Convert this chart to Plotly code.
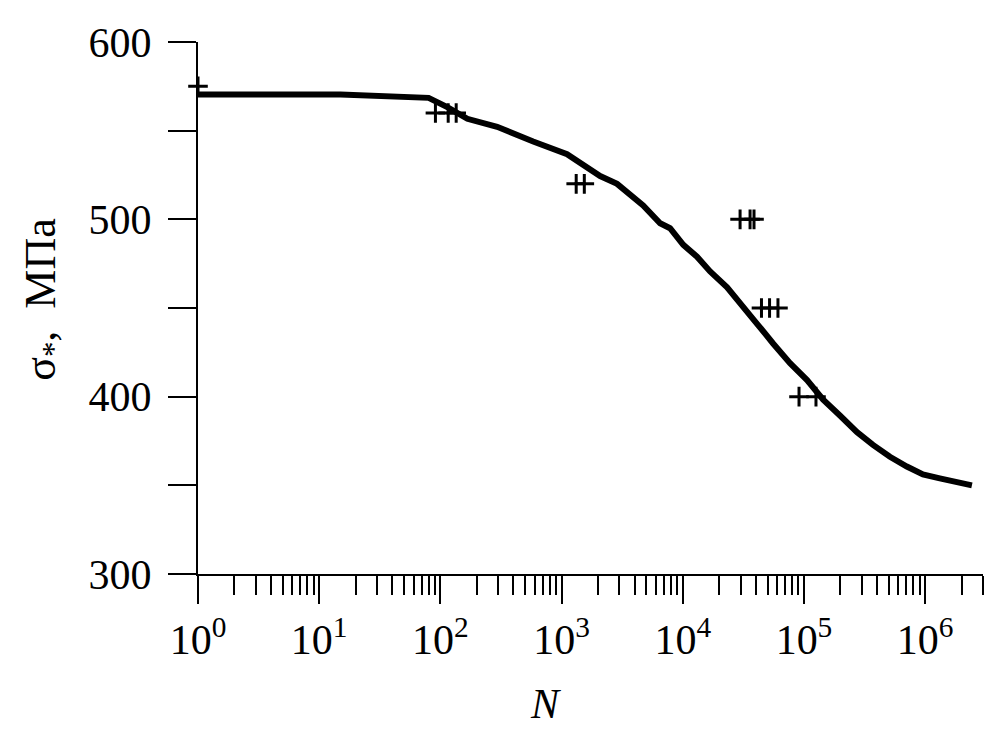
import math
import plotly.graph_objects as go

# Fitted curve
curve_N = [1, 15, 80, 114, 167, 294, 583, 1110, 2080, 2870, 4710, 6500, 7850,
           10100, 13100, 16800, 23200, 29700, 41000, 55600, 76700, 106000,
           144000, 198000, 274000, 371000, 512000, 706000, 958000, 1320000,
           1830000, 2430000]
curve_sigma = [570.4, 570.4, 568.5, 563.3, 556.7, 552.2, 543.9, 536.7, 524.4,
               520.0, 507.8, 497.8, 495.0, 485.6, 478.9, 470.6, 461.7, 452.2,
               441.1, 430.0, 418.9, 409.4, 398.3, 389.4, 380.0, 372.8, 366.1,
               360.6, 356.1, 353.9, 352.2, 350.0]

# Experimental points
exp_N = [1, 91, 116, 135, 1320, 1540, 29700, 35900, 38700, 44600, 52000, 61000,
         91000, 125600]
exp_sigma = [575, 560, 560, 560, 520, 520, 500, 500, 500, 450, 450, 450, 400, 400]

# Axis ticks
x_major_vals = [1, 10, 100, 1000, 10000, 100000, 1000000]
x_major_text = ["10<sup>%d</sup>" % i for i in range(7)]
x_max = 3e6
y_tick_vals = [300, 350, 400, 450, 500, 550, 600]
y_tick_text = ["300", "", "400", "", "500", "", "600"]

x_minor_vals = []
for d in range(7):
    for k in range(2, 10):
        v = k * 10 ** d
        if v <= x_max * 1.0001:
            x_minor_vals.append(v)

FONT = "Liberation Serif"

fig = go.Figure()
fig.add_trace(go.Scatter(
    x=exp_N, y=exp_sigma, mode="markers",
    marker=dict(symbol="cross-thin", size=14, color="black",
                line=dict(color="black", width=3)),
    cliponaxis=False, showlegend=False))
fig.add_trace(go.Scatter(
    x=curve_N, y=curve_sigma, mode="lines",
    line=dict(color="black", width=6),
    cliponaxis=False, showlegend=False))

fig.update_layout(
    width=996, height=725,
    margin=dict(l=189.5, r=20.5, t=26, b=159, pad=0),
    paper_bgcolor="white", plot_bgcolor="white",
    font=dict(family=FONT, size=42, color="black"),
    xaxis=dict(
        type="log", range=[0, math.log10(x_max)],
        showline=True, linecolor="black", linewidth=2,
        ticks="outside", ticklen=28, tickwidth=2, tickcolor="black",
        tickvals=x_major_vals, ticktext=x_major_text,
        tickfont=dict(family=FONT, size=42, color="black"),
        minor=dict(tickvals=x_minor_vals, ticks="outside", ticklen=19,
                   tickwidth=2, tickcolor="black", showgrid=False),
        showgrid=False, zeroline=False),
    yaxis=dict(
        range=[300, 600],
        showline=True, linecolor="black", linewidth=2,
        ticks="outside", ticklen=28, tickwidth=2, tickcolor="black",
        tickvals=y_tick_vals, ticktext=y_tick_text,
        ticklabelstandoff=8,
        tickfont=dict(family=FONT, size=42, color="black"),
        showgrid=False, zeroline=False),
    annotations=[
        dict(text="<i>N</i>", xref="paper", yref="paper",
             x=(545 - 197.5) / 786, y=(574 - 706) / 540,
             xanchor="center", yanchor="middle", showarrow=False,
             font=dict(family=FONT, size=42, color="black")),
        dict(text="σ<sub>*</sub>,\u00a0\u00a0МПа", xref="paper", yref="paper",
             x=(42 - 197.5) / 786, y=(574 - 295) / 540, textangle=-90,
             xanchor="center", yanchor="middle", showarrow=False,
             font=dict(family=FONT, size=44, color="black")),
    ],
)

fig.write_html("out.html")
